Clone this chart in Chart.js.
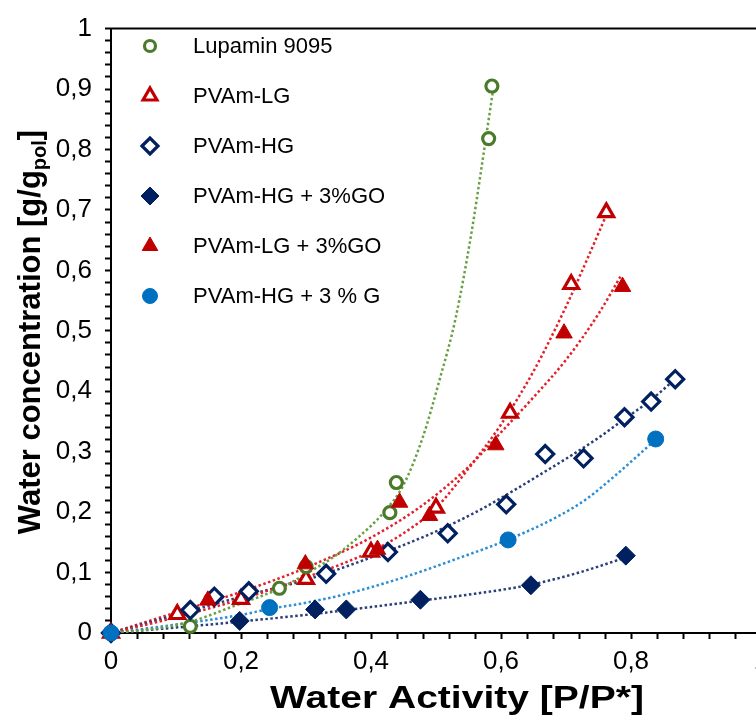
<!DOCTYPE html>
<html><head><meta charset="utf-8">
<script src="https://cdn.jsdelivr.net/npm/chart.js@4.4.1/dist/chart.umd.min.js"></script>
<style>
html,body{margin:0;padding:0;background:#fff;overflow:hidden;width:756px;height:716px;}
#wrap{position:relative;width:800px;height:716px;}
canvas{display:block;}
</style></head><body>
<div id="wrap"><canvas id="c" width="800" height="716"></canvas></div>
<script>
// ---------- data ----------
const seriesNames = ['Lupamin 9095', 'PVAm-LG', 'PVAm-HG', 'PVAm-HG + 3%GO', 'PVAm-LG + 3%GO', 'PVAm-HG + 3 % G'];

const lupaminX = [0, 0.122, 0.259, 0.300, 0.429, 0.439, 0.581, 0.586];
const lupaminY = [0, 0.011, 0.074, 0.110, 0.199, 0.249, 0.818, 0.905];

const lgX = [0, 0.102, 0.200, 0.300, 0.400, 0.500, 0.614, 0.708, 0.762];
const lgY = [0, 0.031, 0.056, 0.089, 0.134, 0.207, 0.364, 0.577, 0.696];

const hgX = [0, 0.122, 0.159, 0.212, 0.331, 0.426, 0.518, 0.608, 0.668, 0.727, 0.790, 0.831, 0.868];
const hgY = [0, 0.038, 0.060, 0.069, 0.098, 0.134, 0.165, 0.213, 0.296, 0.289, 0.357, 0.383, 0.420];

const hgGOX = [0, 0.198, 0.314, 0.362, 0.476, 0.646, 0.792];
const hgGOY = [0, 0.020, 0.039, 0.039, 0.055, 0.079, 0.128];

const lgGOX = [0, 0.149, 0.299, 0.410, 0.444, 0.490, 0.592, 0.697, 0.787];
const lgGOY = [0, 0.054, 0.114, 0.138, 0.216, 0.194, 0.311, 0.496, 0.573];

const hgGX = [0, 0.244, 0.611, 0.838];
const hgGY = [0, 0.042, 0.154, 0.321];

// dotted fit curves
const fitLupaminX = [0, 0.06, 0.12, 0.19, 0.26, 0.30, 0.34, 0.38, 0.42, 0.45, 0.48, 0.505, 0.53, 0.555, 0.57, 0.588];
const fitLupaminY = [0, 0.006, 0.018, 0.045, 0.074, 0.098, 0.124, 0.158, 0.200, 0.245, 0.325, 0.417, 0.520, 0.665, 0.770, 0.900];

const fitLgX = [0, 0.1, 0.2, 0.3, 0.4, 0.45, 0.5, 0.55, 0.6, 0.65, 0.7, 0.73, 0.763];
const fitLgY = [0, 0.026, 0.056, 0.092, 0.135, 0.165, 0.207, 0.272, 0.345, 0.433, 0.540, 0.612, 0.694];

const fitHgX = [0, 0.1, 0.2, 0.3, 0.4, 0.5, 0.57, 0.62, 0.66, 0.71, 0.75, 0.79, 0.83, 0.868];
const fitHgY = [0, 0.030, 0.060, 0.088, 0.125, 0.168, 0.205, 0.236, 0.262, 0.295, 0.323, 0.354, 0.385, 0.420];

const fitHgGOX = [0, 0.1, 0.2, 0.3, 0.4, 0.48, 0.56, 0.646, 0.72, 0.792];
const fitHgGOY = [0, 0.009, 0.019, 0.030, 0.043, 0.054, 0.065, 0.080, 0.100, 0.125];

const fitLgGOX = [0, 0.1, 0.2, 0.3, 0.4, 0.48, 0.55, 0.6, 0.65, 0.7, 0.75, 0.785];
const fitLgGOY = [0, 0.034, 0.068, 0.108, 0.158, 0.212, 0.275, 0.332, 0.390, 0.452, 0.528, 0.592];

const fitHgGX = [0, 0.1, 0.2, 0.245, 0.3, 0.36, 0.45, 0.53, 0.612, 0.686, 0.732, 0.773, 0.809, 0.84];
const fitHgGY = [0, 0.014, 0.030, 0.040, 0.050, 0.064, 0.092, 0.122, 0.155, 0.192, 0.222, 0.258, 0.292, 0.322];

// tick labels
const xTickValues = [0, 0.2, 0.4, 0.6, 0.8, 1];
const xTickLabels = ['0', '0,2', '0,4', '0,6', '0,8', '1'];
const yTickValues = [0, 0.1, 0.2, 0.3, 0.4, 0.5, 0.6, 0.7, 0.8, 0.9, 1];
const yTickLabels = ['0', '0,1', '0,2', '0,3', '0,4', '0,5', '0,6', '0,7', '0,8', '0,9', '1'];

const xTitle = 'Water Activity [P/P*]';
const yTitleMain = 'Water concentration [g/g';
const yTitleSub = 'pol';
const yTitleEnd = ']';

// ---------- styling ----------
const GREEN = '#4a7a2a', GREEN_L = '#6a9f43';
const RED = '#c00000', RED_L = '#e3202a';
const NAVY = '#002060', NAVY_L = '#2a3f7a';
const BLUE = '#0070c0', BLUE_L = '#2b8fd6';
const FONT = '"Liberation Sans", Arial, sans-serif';

function pts(xs, ys) { return xs.map((x, i) => ({ x: x, y: ys[i] })); }
function tickLabel(v, vals, labs) {
  for (let i = 0; i < vals.length; i++) if (Math.abs(v - vals[i]) < 1e-6) return labs[i];
  return '';
}

const markerStyles = [
  { style: 'circle', r: 6, bw: 3.2, stroke: GREEN, fill: '#ffffff' },
  { style: 'triangle', r: 8.5, bw: 3.2, stroke: RED, fill: '#ffffff' },
  { style: 'rectRot', r: 8.5, bw: 3.2, stroke: NAVY, fill: '#ffffff' },
  { style: 'rectRot', r: 9.5, bw: 1, stroke: NAVY, fill: NAVY },
  { style: 'triangle', r: 9.5, bw: 1, stroke: RED, fill: RED },
  { style: 'circle', r: 8, bw: 1, stroke: BLUE, fill: BLUE }
];
const markerData = [
  pts(lupaminX, lupaminY), pts(lgX, lgY), pts(hgX, hgY),
  pts(hgGOX, hgGOY), pts(lgGOX, lgGOY), pts(hgGX, hgGY)
];
const fitData = [
  pts(fitLupaminX, fitLupaminY), pts(fitLgX, fitLgY), pts(fitHgX, fitHgY),
  pts(fitHgGOX, fitHgGOY), pts(fitLgGOX, fitLgGOY), pts(fitHgGX, fitHgGY)
];
const lineColors = [GREEN_L, RED_L, NAVY_L, NAVY_L, RED_L, BLUE_L];
const markerOrder = [3, 4, 2, 5, 1, 0];

const datasets = [];
seriesNames.forEach((name, i) => {
  const m = markerStyles[i];
  datasets.push({
    label: name,
    data: markerData[i],
    showLine: false,
    clip: false,
    pointStyle: m.style,
    pointRadius: m.r,
    pointBorderWidth: m.bw,
    pointBorderColor: m.stroke,
    pointBackgroundColor: m.fill,
    borderColor: m.stroke,
    backgroundColor: m.fill,
    order: markerOrder[i]
  });
});
seriesNames.forEach((name, i) => {
  datasets.push({
    label: name + ' fit',
    data: fitData[i],
    showLine: true,
    pointRadius: 0,
    borderColor: lineColors[i],
    borderWidth: 2.5,
    borderDash: [2.5, 2.5],
    cubicInterpolationMode: 'monotone',
    fill: false,
    order: 20 + i
  });
});

const extras = {
  id: 'extras',
  afterDraw(chart) {
    const ctx = chart.ctx, ca = chart.chartArea;
    ctx.save();
    // top border of the plot area
    ctx.strokeStyle = '#000';
    ctx.lineWidth = 2;
    ctx.beginPath();
    ctx.moveTo(ca.left - 1, ca.top);
    ctx.lineTo(chart.width, ca.top);
    ctx.stroke();

    // legend inside plot
    const lx = 150, tx = 193, y0 = 46, dy = 50;
    ctx.font = '22px ' + FONT;
    ctx.textBaseline = 'middle';
    ctx.textAlign = 'left';
    seriesNames.forEach((name, i) => {
      const m = markerStyles[i];
      const y = y0 + dy * i;
      ctx.save();
      ctx.lineWidth = m.bw;
      ctx.strokeStyle = m.stroke;
      ctx.fillStyle = m.fill;
      Chart.helpers.drawPoint(ctx, { pointStyle: m.style, radius: m.r - 0.5, borderWidth: m.bw, rotation: 0 }, lx, y);
      ctx.restore();
      ctx.fillStyle = '#000';
      ctx.fillText(name, tx, y + 1);
    });

    // x axis title
    ctx.save();
    ctx.font = 'bold 32px ' + FONT;
    ctx.textAlign = 'center';
    ctx.textBaseline = 'middle';
    ctx.fillStyle = '#000';
    ctx.translate(457, 699);
    ctx.scale(1.22, 1);
    ctx.fillText(xTitle, 0, 0);
    ctx.restore();

    // y axis title with subscript
    ctx.fillStyle = '#000';
    ctx.translate(30, 332);
    ctx.rotate(-Math.PI / 2);
    const mainFont = 'bold 31px ' + FONT, subFont = 'bold 20px ' + FONT;
    ctx.font = mainFont; const w1 = ctx.measureText(yTitleMain).width; const w3 = ctx.measureText(yTitleEnd).width;
    ctx.font = subFont; const w2 = ctx.measureText(yTitleSub).width;
    const total = w1 + w2 + w3;
    let x = -total / 2;
    ctx.textAlign = 'left';
    ctx.textBaseline = 'alphabetic';
    ctx.font = mainFont; ctx.fillText(yTitleMain, x, 10); x += w1;
    ctx.font = subFont; ctx.fillText(yTitleSub, x, 16); x += w2;
    ctx.font = mainFont; ctx.fillText(yTitleEnd, x, 10);
    ctx.restore();
  }
};

new Chart(document.getElementById('c'), {
  type: 'scatter',
  data: { datasets: datasets },
  options: {
    responsive: false,
    animation: false,
    layout: { padding: { top: 26, right: 39, left: 0, bottom: 0 } },
    plugins: { legend: { display: false }, tooltip: { enabled: false }, title: { display: false } },
    scales: {
      x: {
        type: 'linear', min: 0, max: 1,
        border: { display: true, color: '#000', width: 2 },
        grid: { drawOnChartArea: false, drawTicks: true, tickLength: 6, tickColor: '#000', tickWidth: 2, color: '#000' },
        ticks: {
          stepSize: 0.04, maxTicksLimit: 100, autoSkip: false, maxRotation: 0, minRotation: 0,
          padding: 7, color: '#000', font: { family: FONT, size: 26 },
          callback: (v) => tickLabel(v, xTickValues, xTickLabels)
        },
        afterFit: (s) => { s.height = 83; }
      },
      y: {
        type: 'linear', min: 0, max: 1,
        border: { display: true, color: '#000', width: 2 },
        grid: { drawOnChartArea: false, drawTicks: true, tickLength: 6, tickColor: '#000', tickWidth: 2, color: '#000' },
        ticks: {
          stepSize: 0.02, maxTicksLimit: 100, autoSkip: false,
          padding: 13, color: '#000', font: { family: FONT, size: 26 },
          callback: (v) => tickLabel(v, yTickValues, yTickLabels)
        },
        afterFit: (s) => { s.width = 111; }
      }
    }
  },
  plugins: [extras]
});
</script>
</body></html>
